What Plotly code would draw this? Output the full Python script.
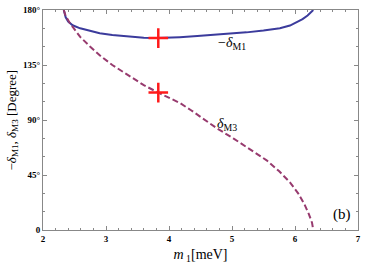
import plotly.graph_objects as go

# -delta_M1 (solid blue)
m_M1 = [2.33, 2.34, 2.36, 2.4, 2.47, 2.59, 2.75, 2.9, 3.1, 3.38, 3.6, 3.8, 4.0, 4.17, 4.45,
        4.7, 5.0, 5.23, 5.5, 5.76, 5.92, 6.03, 6.12, 6.2, 6.25, 6.28, 6.29]
d_M1 = [180, 177.5, 174, 170.5, 167.5, 165, 162.8, 161, 159.5, 158, 157.3, 157, 157.3, 157.8, 158.7,
        159.6, 160.6, 161.7, 163.2, 165, 167.3, 170, 172.5, 175.5, 178, 179.5, 180]

# delta_M3 (dashed purple)
m_M3 = [2.33, 2.36, 2.43, 2.5, 2.59, 2.75, 2.9, 3.1, 3.38, 3.6, 3.83, 4.0, 4.17, 4.35, 4.49,
        4.76, 5.02, 5.29, 5.55, 5.75, 5.92, 6.05, 6.15, 6.22, 6.27, 6.29]
d_M3 = [180, 175, 169, 164, 158, 150, 143, 135, 125.5, 118.5, 112.4, 108, 104, 98, 92.7,
        83.2, 75, 66, 57, 48, 39, 30, 21, 13, 6, 0]

# best-fit marks
m_best = [3.83, 3.83]
d_best = [157, 112.4]

x_ticks = [2, 3, 4, 5, 6, 7]
y_ticks = [0, 45, 90, 135, 180]
y_labels = ["0", "45°", "90°", "135°", "180°"]

serif = "Liberation Serif"

fig = go.Figure()
fig.add_trace(go.Scatter(x=m_M1, y=d_M1, mode="lines", line=dict(color="#3b3b9c", width=2)))
fig.add_trace(go.Scatter(x=m_M3, y=d_M3, mode="lines",
                         line=dict(color="#973a6e", width=2, dash="6px,3px")))
fig.add_trace(go.Scatter(x=m_best, y=d_best, mode="markers",
                         marker=dict(symbol="cross-thin", size=14, line=dict(color="#ff1a1a", width=2.5))))

fig.add_annotation(x=5.0, y=153, text="−<i>δ</i><sub>M1</sub>", showarrow=False,
                   font=dict(family=serif, size=14, color="black"))
fig.add_annotation(x=4.92, y=86, text="<i>δ</i><sub>M3</sub>", showarrow=False,
                   font=dict(family=serif, size=14, color="black"))
fig.add_annotation(x=6.75, y=13, text="(b)", showarrow=False,
                   font=dict(family=serif, size=15, color="black"))
# y-axis title placed by hand so the frame keeps its position
fig.add_annotation(xref="paper", yref="paper", x=-0.1, xanchor="center", y=0.5, textangle=-90,
                   text="−<i>δ</i><sub>M1</sub>, <i>δ</i><sub>M3</sub> [Degree]", showarrow=False,
                   font=dict(family=serif, size=13, color="black"))

axis_common = dict(showgrid=False, zeroline=False, showline=True, linecolor="#888888", linewidth=1,
                   mirror="ticks", ticks="inside", ticklen=4, tickcolor="#888888", automargin=False,
                   tickfont=dict(family=serif, size=9, color="black", weight="bold"))

fig.update_xaxes(range=[2, 7], tickvals=x_ticks,
                 minor=dict(dtick=0.2, ticks="inside", ticklen=2, tickcolor="#888888"),
                 title=dict(text="<i>m</i><sub> 1</sub>[meV]", font=dict(family=serif, size=14, color="black"),
                            standoff=6),
                 **axis_common)
fig.update_yaxes(range=[0, 180], tickvals=y_ticks, ticktext=y_labels,
                 minor=dict(dtick=15, ticks="inside", ticklen=2, tickcolor="#888888"),
                 **axis_common)

fig.update_layout(width=374, height=274, margin=dict(l=43, r=16, t=10, b=44),
                  plot_bgcolor="white", paper_bgcolor="white", showlegend=False)

# the page body has a default 8px margin; drop it so the figure sits at the window corner
fig.write_html("out.html", config={"displayModeBar": False},
               post_script="document.body.style.margin='0px';")
